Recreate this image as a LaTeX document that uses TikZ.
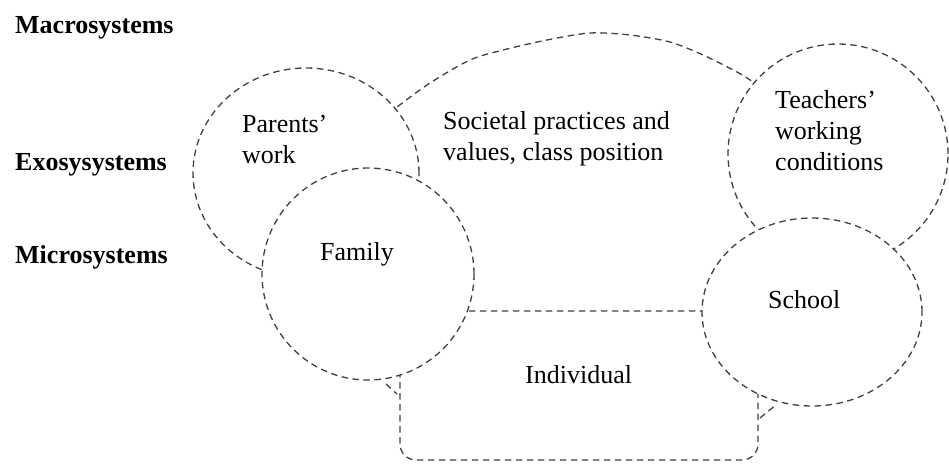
\documentclass[tikz,border=0pt]{standalone}
\usepackage{fontspec}
\setmainfont{Liberation Serif}
\usetikzlibrary{calc}

\tikzset{
  sys/.style={draw=black!75, line width=1.3pt, dash pattern=on 6.5pt off 4.5pt},
  lbl/.style={anchor=base west, inner sep=0pt, align=left, font=\fontsize{26}{31}\selectfont},
  lvl/.style={lbl, font=\fontsize{26}{31}\selectfont\bfseries}
}

\begin{document}
\begin{tikzpicture}[x=1pt, y=-1pt]
      \useasboundingbox (0,0) rectangle (949,464);
      \draw [sys] plot [smooth, tension=0.5] coordinates {(380,120) (397,107) (430,83) (470,60) (503,50) (547,40) (590,33) (630,35) (670,42) (703,55) (737,72) (753,82) (770,95)};
      \draw [sys, rounded corners=16pt] (400,311) rectangle (758,460);
      \draw [sys] (386,384) -- (397,394);
      \draw [sys] (760,418) -- (777,404);
      \draw [sys, fill=white] (306,173) ellipse [x radius=113pt, y radius=105pt];
      \draw [sys, fill=white] (838,154) circle (110pt);
      \draw [sys, fill=white] (368,274) circle (106pt);
      \draw [sys, fill=white] (812,312) ellipse [x radius=110pt, y radius=94pt];
      \node [lvl] (macro) at (15,33) {Macrosystems};
      \node [lvl] (exo) at (15,170) {Exosysystems};
      \node [lvl] (micro) at (15,263) {Microsystems};
      \node [lbl] (parents) at (242,163) {Parents’\\work};
      \node [lbl] (societal) at (443,160) {Societal practices and\\values, class position};
      \node [lbl] (teachers) at (775,170) {Teachers’\\working\\conditions};
      \node [lbl] (family) at (320,260) {Family};
      \node [lbl] (school) at (768,308) {School};
      \node [lbl] (individual) at (525,383) {Individual};
    \end{tikzpicture}
\end{document}
